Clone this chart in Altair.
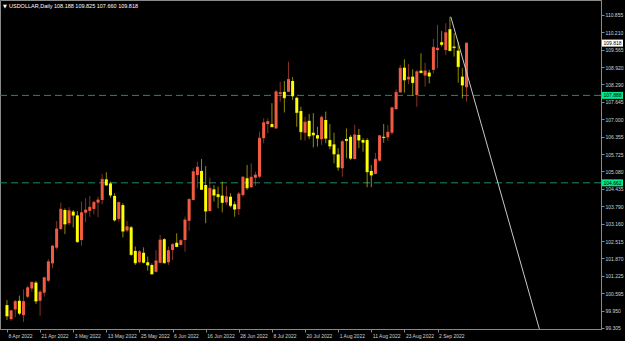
import altair as alt
import pandas as pd

# ---- data (USDOLLAR, Daily) ----
date_labels = ["8 Apr 2022", "21 Apr 2022", "3 May 2022", "13 May 2022", "25 May 2022",
               "6 Jun 2022", "16 Jun 2022", "28 Jun 2022", "8 Jul 2022", "20 Jul 2022",
               "1 Aug 2022", "11 Aug 2022", "23 Aug 2022", "2 Sep 2022"]
date_tick_index = [0, 8, 16, 24, 32, 40, 48, 56, 64, 72, 80, 88, 96, 104]

price_ticks = [99.305, 99.950, 100.595, 101.225, 101.870, 102.515, 103.160, 103.790,
               104.435, 105.080, 105.725, 106.355, 107.000, 107.645, 108.290, 108.920,
               109.565, 110.210, 110.855]

opens = [100.15, 99.63, 99.99, 100.31, 99.78, 100.46, 100.76, 100.98, 100.31, 100.61,
         101.05, 101.69, 102.27, 102.96, 103.66, 103.17, 103.60, 103.46, 102.55, 103.56,
         103.63, 103.70, 103.93, 104.03, 104.79, 104.64, 104.18, 103.33, 103.84, 102.90,
         103.02, 102.15, 101.73, 102.08, 101.73, 101.63, 101.38, 101.71, 102.58, 101.73,
         102.18, 102.45, 102.37, 102.55, 103.26, 104.03, 104.95, 105.10, 104.58, 103.62,
         104.42, 104.24, 104.19, 103.94, 104.15, 103.87, 103.69, 104.21, 104.83, 104.50,
         104.85, 104.89, 106.31, 106.83, 106.83, 106.67, 107.94, 108.02, 108.02, 108.42,
         107.80, 107.31, 106.51, 106.95, 106.51, 106.42, 106.27, 106.98, 106.24, 106.08,
         105.71, 105.20, 106.28, 106.36, 105.54, 106.43, 106.24, 106.24, 105.10, 104.99,
         105.48, 106.36, 106.34, 106.51, 107.38, 108.00, 108.91, 108.48, 108.58, 107.90,
         108.80, 108.62, 108.73, 108.83, 109.56, 109.85, 109.56, 110.33, 109.69, 109.54,
         108.58, 108.188]
highs = [100.34, 99.97, 100.34, 100.50, 100.73, 100.86, 101.01, 101.04, 100.71, 101.20,
         101.85, 102.37, 103.25, 103.93, 103.72, 103.76, 103.66, 103.62, 103.97, 104.09,
         104.18, 104.00, 104.15, 104.98, 105.05, 104.70, 104.28, 103.97, 103.91, 103.26,
         103.07, 102.31, 102.18, 102.28, 101.94, 101.69, 102.18, 102.74, 102.62, 102.31,
         102.43, 102.80, 102.58, 103.41, 104.09, 105.20, 105.44, 105.54, 105.28, 104.85,
         104.58, 104.52, 104.70, 104.55, 104.28, 103.97, 104.33, 104.91, 105.32, 105.38,
         105.07, 106.55, 107.04, 107.04, 107.60, 108.09, 108.39, 108.42, 109.13, 108.56,
         107.84, 107.47, 107.10, 107.20, 107.23, 106.73, 107.14, 107.29, 106.83, 106.51,
         105.94, 106.24, 106.67, 106.43, 106.80, 106.65, 106.31, 106.31, 105.32, 105.77,
         106.43, 106.83, 106.80, 107.47, 108.12, 109.01, 109.22, 109.05, 108.85, 108.83,
         109.44, 109.09, 108.83, 109.97, 110.49, 110.26, 110.55, 110.79, 110.18, 109.87,
         108.89, 109.825]
lows = [99.60, 99.57, 99.70, 99.78, 99.53, 100.40, 100.64, 100.19, 99.76, 100.46,
        101.00, 101.51, 102.21, 102.92, 102.77, 103.10, 103.02, 102.45, 102.34, 103.21,
        103.41, 103.50, 103.39, 103.88, 104.56, 104.11, 103.23, 103.23, 102.65, 102.84,
        101.97, 101.63, 101.69, 101.69, 101.42, 101.28, 101.35, 101.69, 101.69, 101.63,
        101.81, 102.29, 102.35, 102.12, 102.90, 104.01, 104.46, 104.40, 103.17, 103.60,
        103.97, 103.72, 103.57, 103.84, 103.76, 103.41, 103.47, 104.15, 104.40, 104.47,
        104.55, 104.83, 106.12, 106.49, 106.72, 106.65, 107.66, 107.26, 108.01, 107.72,
        106.73, 106.24, 106.22, 106.27, 105.97, 106.00, 106.06, 106.12, 105.90, 105.38,
        105.11, 104.89, 105.57, 105.50, 105.52, 105.94, 105.81, 104.50, 104.50, 104.97,
        105.44, 106.14, 106.21, 106.43, 107.36, 107.99, 107.99, 108.31, 107.88, 107.47,
        108.70, 108.21, 108.33, 108.70, 108.89, 109.69, 109.38, 109.53, 109.32, 108.36,
        107.78, 107.660]
closes = [99.75, 99.94, 100.28, 99.85, 100.28, 100.79, 100.99, 100.30, 100.63, 101.16,
          101.75, 102.33, 102.96, 103.69, 103.14, 103.63, 103.47, 102.49, 103.56, 103.66,
          103.76, 103.94, 104.03, 104.79, 104.58, 104.21, 103.29, 103.94, 102.88, 103.04,
          102.02, 101.71, 102.12, 101.73, 101.63, 101.30, 101.78, 102.55, 101.71, 102.16,
          102.39, 102.31, 102.53, 103.29, 104.05, 105.07, 105.24, 104.42, 103.62, 104.46,
          104.21, 104.15, 103.94, 104.15, 103.82, 103.69, 104.25, 104.87, 104.48, 104.87,
          104.95, 106.31, 106.88, 106.92, 106.73, 108.02, 107.99, 107.80, 108.48, 107.87,
          107.26, 106.55, 106.90, 106.39, 106.43, 106.31, 107.08, 106.31, 106.02, 105.73,
          105.24, 106.18, 106.22, 105.57, 106.43, 106.24, 106.16, 105.07, 104.95, 105.53,
          106.40, 106.33, 106.53, 107.43, 108.00, 108.89, 108.46, 108.56, 108.36, 108.76,
          108.73, 108.79, 108.60, 109.66, 109.63, 109.77, 110.20, 109.54, 109.65, 108.95,
          108.27, 109.818]

level_prices = [107.888, 104.662]
trend_index = [107.2, 128.6]
trend_price = [110.79, 99.27]

RED = "#f25b43"
YELLOW = "#ffff00"
GREEN_LINE = "#1a8c68"
GREEN_BOX = "#00e88c"
AXIS_GRAY = "#8a8a8a"
LABEL = "#d2d2d2"
FONT = "Liberation Sans"

df = pd.DataFrame({"i": list(range(len(opens))), "open": opens, "high": highs,
                   "low": lows, "close": closes})
df["dir"] = ["up" if c >= o else "down" for o, c in zip(opens, closes)]

label_arr = "[" + ",".join("'" + d + "'" for d in date_labels) + "]"

xscale = alt.Scale(domain=[-0.475, 142.28], nice=False, zero=False)
yscale = alt.Scale(domain=[99.268, 111.408], nice=False, zero=False)

xaxis = alt.Axis(values=date_tick_index, labelExpr=label_arr + "[round(datum.value/8)]",
                 title=None, grid=False, domainColor=AXIS_GRAY, tickColor=AXIS_GRAY,
                 tickSize=3, labelColor=LABEL, labelFontSize=5, labelFont=FONT,
                 labelAlign="left", labelBaseline="top", labelPadding=1, labelOffset=1,
                 labelOverlap=False, labelFlush=False)
yaxis = alt.Axis(orient="right", values=price_ticks, format=".3f", title=None, grid=False,
                 domainColor=AXIS_GRAY, tickColor=AXIS_GRAY, tickSize=3, labelColor=LABEL,
                 labelFontSize=5, labelFont=FONT, labelPadding=1, labelOverlap=False,
                 labelFlush=False)

def X(field="i"):
    return alt.X(f"{field}:Q", scale=xscale, axis=xaxis)

def Y(field):
    return alt.Y(f"{field}:Q", scale=yscale, axis=yaxis)

color = alt.Color("dir:N", scale=alt.Scale(domain=["up", "down"], range=[RED, YELLOW]),
                  legend=None)

base = alt.Chart(df)
wicks = base.mark_rule(strokeWidth=1, opacity=0.55).encode(
    x=X(), y=Y("low"), y2="high:Q", color=color)
bodies = base.mark_bar(size=3).encode(x=X(), y=Y("open"), y2="close:Q", color=color)
doji = base.mark_tick(orient="horizontal", size=3, thickness=1).encode(
    x=X(), y=Y("close"), color=color)

lv = pd.DataFrame({"price": level_prices, "lab": [f"{p:.3f}" for p in level_prices]})
levels = alt.Chart(lv).mark_rule(strokeDash=[7, 4], color=GREEN_LINE, strokeWidth=1).encode(
    y=Y("price"))
lv_box = alt.Chart(lv).mark_tick(orient="horizontal", size=21, thickness=7, color=GREEN_BOX,
                                 opacity=1).encode(x=alt.value(612.5), y=Y("price"))
lv_txt = alt.Chart(lv).mark_text(align="left", baseline="middle", fontSize=5, font=FONT,
                                 color="#000000").encode(
    x=alt.value(603.5), y=Y("price"), text="lab:N")

last = pd.DataFrame({"price": [closes[-1]], "lab": [f"{closes[-1]:.3f}"]})
last_box = alt.Chart(last).mark_tick(orient="horizontal", size=21, thickness=7,
                                     color="#ffffff", opacity=1).encode(
    x=alt.value(612.5), y=Y("price"))
last_txt = alt.Chart(last).mark_text(align="left", baseline="middle", fontSize=5, font=FONT,
                                     color="#000000").encode(
    x=alt.value(603.5), y=Y("price"), text="lab:N")

tr = pd.DataFrame({"i": trend_index, "price": trend_price})
trend = alt.Chart(tr).mark_line(color="#c8c8c8", strokeWidth=1, clip=True).encode(
    x=X(), y=Y("price"))

title_str = "USDOLLAR,Daily  {:.3f} {:.3f} {:.3f} {:.3f}".format(
    opens[-1], highs[-1], lows[-1], closes[-1])
ttl = pd.DataFrame({"t": [title_str]})
title_txt = alt.Chart(ttl).mark_text(align="left", baseline="middle", fontSize=5.5, font=FONT,
                                     color="#ffffff").encode(
    x=alt.value(9), y=alt.value(6), text="t:N")
tri = alt.Chart(pd.DataFrame({"t": ["\u25bc"]})).mark_text(
    align="left", baseline="middle", fontSize=5, font="DejaVu Sans", color="#ffffff").encode(
    x=alt.value(3), y=alt.value(6), text="t:N")

chart = alt.layer(levels, wicks, doji, bodies, trend, lv_box, lv_txt, last_box, last_txt,
                  title_txt, tri).properties(
    width=601, height=329,
    padding={"left": 0, "top": 0, "right": 24, "bottom": 12},
    autosize=alt.AutoSizeParams(type="none"),
    background="#000000",
).configure_view(stroke=AXIS_GRAY, strokeWidth=1)

chart.save("out.html", embed_options={"renderer": "svg", "actions": False})
